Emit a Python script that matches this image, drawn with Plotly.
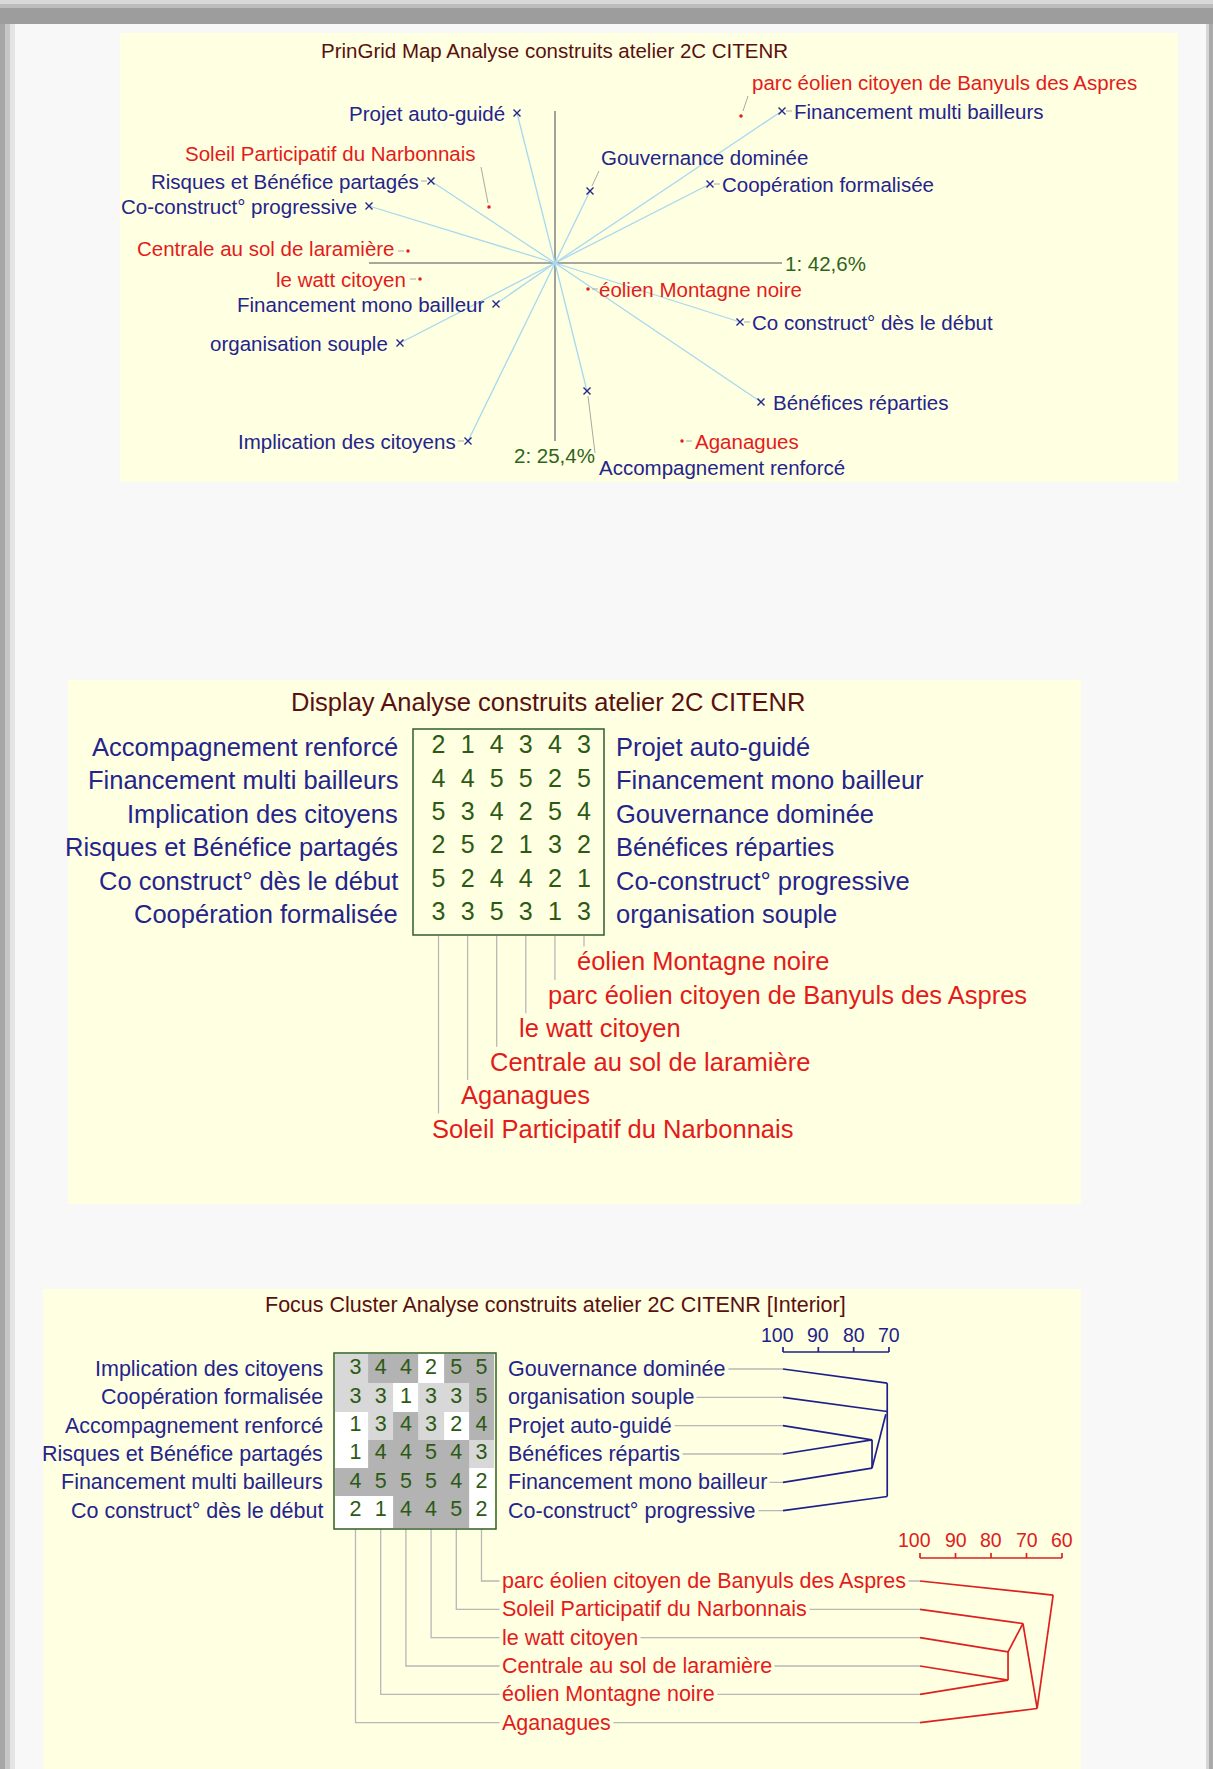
import plotly.graph_objects as go

W, H = 1213, 1769

# ---------------- PrinGrid map data (principal component scores) ----------------
map_constructs = [
    "Projet auto-guidé", "Risques et Bénéfice partagés", "Co-construct° progressive",
    "Gouvernance dominée", "Financement multi bailleurs", "Coopération formalisée",
    "Financement mono bailleur", "organisation souple", "Implication des citoyens",
    "Co construct° dès le début", "Bénéfices réparties", "Accompagnement renforcé",
]
construct_pc1 = [-0.38, -1.24, -1.86, 0.35, 2.27, 1.55, -0.59, -1.55, -0.87, 1.85, 2.06, 0.32]
construct_pc2 = [1.50, 0.82, 0.57, 0.72, 1.52, 0.79, -0.41, -0.80, -1.78, -0.59, -1.39, -1.28]

map_elements = [
    "parc éolien citoyen de Banyuls des Aspres", "Soleil Participatif du Narbonnais",
    "Centrale au sol de laramière", "le watt citoyen", "éolien Montagne noire", "Aganagues",
]
element_pc1 = [1.86, -0.66, -1.47, -1.35, 0.33, 1.27]
element_pc2 = [1.47, 0.56, 0.12, -0.16, -0.26, -1.78]
pc_labels = ["1: 42,6%", "2: 25,4%"]

# ---------------- Display grid data ----------------
display_left = ["Accompagnement renforcé", "Financement multi bailleurs", "Implication des citoyens",
                "Risques et Bénéfice partagés", "Co construct° dès le début", "Coopération formalisée"]
display_right = ["Projet auto-guidé", "Financement mono bailleur", "Gouvernance dominée",
                 "Bénéfices réparties", "Co-construct° progressive", "organisation souple"]
display_elements = ["Soleil Participatif du Narbonnais", "Aganagues", "Centrale au sol de laramière",
                    "le watt citoyen", "parc éolien citoyen de Banyuls des Aspres", "éolien Montagne noire"]
display_values = [[2, 1, 4, 3, 4, 3],
                  [4, 4, 5, 5, 2, 5],
                  [5, 3, 4, 2, 5, 4],
                  [2, 5, 2, 1, 3, 2],
                  [5, 2, 4, 4, 2, 1],
                  [3, 3, 5, 3, 1, 3]]

# ---------------- Focus cluster data ----------------
focus_left = ["Implication des citoyens", "Coopération formalisée", "Accompagnement renforcé",
              "Risques et Bénéfice partagés", "Financement multi bailleurs", "Co construct° dès le début"]
focus_right = ["Gouvernance dominée", "organisation souple", "Projet auto-guidé",
               "Bénéfices répartis", "Financement mono bailleur", "Co-construct° progressive"]
focus_elements = ["Aganagues", "éolien Montagne noire", "Centrale au sol de laramière",
                  "le watt citoyen", "Soleil Participatif du Narbonnais",
                  "parc éolien citoyen de Banyuls des Aspres"]
focus_values = [[3, 4, 4, 2, 5, 5],
                [3, 3, 1, 3, 3, 5],
                [1, 3, 4, 3, 2, 4],
                [1, 4, 4, 5, 4, 3],
                [4, 5, 5, 5, 4, 2],
                [2, 1, 4, 4, 5, 2]]
# element order down the element tree (column indices of focus_elements)
element_tree_order = [5, 4, 3, 2, 1, 0]
construct_tree_ticks = [100, 90, 80, 70]
element_tree_ticks = [100, 90, 80, 70, 60]
# tree links: (similarity %, row) -> (similarity %, row)
construct_tree_links = [
    (100, 0, 70.5, 0.5), (100, 1, 70.5, 1.5), (100, 2, 74.8, 2.5), (100, 3, 74.8, 2.5),
    (100, 4, 74.8, 3.5), (100, 5, 70.5, 4.5),
    (74.8, 2.5, 74.8, 3.5), (74.8, 3.5, 70.9, 1.6), (70.5, 0.5, 70.5, 4.5),
]
element_tree_links = [
    (100, 0, 62.5, 0.5), (100, 1, 71.0, 1.5), (100, 2, 75.2, 2.5), (100, 3, 75.2, 3.5),
    (100, 4, 75.2, 3.5), (100, 5, 67.0, 4.5),
    (75.2, 2.5, 75.2, 3.5), (75.2, 2.5, 71.0, 1.5), (71.0, 1.5, 67.0, 4.5), (62.5, 0.5, 67.0, 4.5),
]

# ---------------- styles ----------------
FONT = "Liberation Sans, Arial, sans-serif"
NAVY = "#24248c"
RED = "#e31b1b"
MAROON = "#5a1010"
GREEN_TXT = "#2f6420"
DIGIT = "#2c5a14"
BOXGREEN = "#2f5f2a"
YELLOW = "#ffffe1"
PAGE = "#f8f8f8"
SPOKE = "#a6d8f2"
AXISGRAY = "#8a8a8a"
LEADER = "#b8b8b8"
TREE_NAVY = "#1f1f8a"
TREE_RED = "#dd2020"

# label placements on the map (side, dx px, dy px, connector)
construct_label_pos = [
    ("L", -12, 0, None), ("L", -12, 0, "dash"), ("L", -12, 0, None),
    ("R", 11, -34, [(2, -5), (9, -20)]), ("R", 12, 0, "dash"), ("R", 12, 0, "dash"),
    ("L", -12, 0, None), ("L", -12, 0, None), ("L", -12, 0, "dash"),
    ("R", 12, 0, "dash"), ("R", 12, 0, None), ("R", 12, 76, [(1, 5), (8, 62)]),
]
element_label_pos = [
    ("R", 11, -34, [(2, -5), (7, -20)]), ("L", -13, -54, [(-1, -4), (-8, -40)]),
    ("L", -13, -3, "dash"), ("L", -14, 0, "dash"), ("R", 11, 0, "dash"), ("R", 13, 0, "dash"),
]

# axis pixel mappings: px = a + b*value
MAP_X, MAP_Y = (555.0, 100.0), (263.0, -100.0)
D_X, D_Y = (438.5, 29.1), (747.0, 33.4)
F_X, F_Y = (355.5, 25.2), (1369.0, 28.33)
CT_X = (783.0 + 100 * 3.533, -3.533)
ET_X = (920.0 + 100 * 3.55, -3.55)


def inv(m, px):
    return (px - m[0]) / m[1]


def xa(p0, p1, m, anchor):
    return dict(domain=[p0 / W, p1 / W], range=[inv(m, p0), inv(m, p1)], visible=False,
                fixedrange=True, anchor=anchor, showgrid=False, zeroline=False)


def ya(p0, p1, m, anchor):
    return dict(domain=[1 - p1 / H, 1 - p0 / H], range=[inv(m, p1), inv(m, p0)], visible=False,
                fixedrange=True, anchor=anchor, showgrid=False, zeroline=False)


def PX(x):
    return x / W


def PY(y):
    return 1 - y / H


fig = go.Figure()
annotations = []
shapes = []


def ann(text, x, y, xref="paper", yref="paper", size=20, color=NAVY, xanchor="center",
        yanchor="middle", xshift=0, yshift=0, bg=None, pad=1):
    d = dict(text=text, x=x, y=y, xref=xref, yref=yref, showarrow=False, xanchor=xanchor,
             yanchor=yanchor, xshift=xshift, yshift=yshift, borderpad=pad,
             font=dict(family=FONT, size=size, color=color))
    if bg:
        d["bgcolor"] = bg
    annotations.append(d)


def lines(xs, ys, xax, yax, color, width):
    fig.add_trace(go.Scatter(x=xs, y=ys, xaxis=xax, yaxis=yax, mode="lines",
                             line=dict(color=color, width=width), hoverinfo="skip",
                             showlegend=False))


def rect(x0, y0, x1, y1, fill, line=None, lw=0, layer="below"):
    shapes.append(dict(type="rect", xref="paper", yref="paper", x0=PX(x0), x1=PX(x1),
                       y0=PY(y1), y1=PY(y0), fillcolor=fill, layer=layer,
                       line=dict(color=line or "rgba(0,0,0,0)", width=lw)))


# ---------------- page frame & panels ----------------
rect(0, 0, W, 24, "#9d9d9d")
rect(0, 0, W, 4, "#d8d8d8")
rect(0, 4, W, 8, "#bcbcbc")
rect(0, 24, 5, H, "#a6a6a6")
rect(5, 24, 10, H, "#c6c6c6")
rect(10, 24, 15, H, "#e4e4e4")
rect(1206, 24, 1209, H, "#d6d6d6")
rect(1209, 24, W, H, "#aaaaaa")
rect(120, 33, 1178, 482, YELLOW)
rect(68, 680, 1081, 1204, YELLOW)
rect(43, 1289, 1081, H, YELLOW)

# ---------------- Panel 1 : PrinGrid map ----------------
ann("PrinGrid Map Analyse construits atelier 2C CITENR", PX(554), PY(50), size=20.5, color=MAROON)
xmin, xmax = min(construct_pc1), max(construct_pc1)
ymin, ymax = min(construct_pc2), max(construct_pc2)
lines([xmin, xmax, None, 0, 0], [0, 0, None, ymin, ymax], "x", "y", AXISGRAY, 1.6)
sx, sy = [], []
for x, y in zip(construct_pc1, construct_pc2):
    sx += [0, x, None]
    sy += [0, y, None]
lines(sx, sy, "x", "y", SPOKE, 1.3)

cx, cy = [], []


def place(names, xs, ys, pos, color):
    for name, x, y, (side, dx, dy, conn) in zip(names, xs, ys, pos):
        if side == "L":
            ann(name, x, y, "x", "y", 20.5, color, "right", "middle", dx + 2, -dy)
        else:
            ann(name, x, y, "x", "y", 20.5, color, "left", "middle", dx - 2, -dy)
        if conn == "dash":
            pts = [(-10, 0), (-4, 0)] if side == "L" else [(4, 0), (10, 0)]
        else:
            pts = conn
        if pts:
            (a, b), (c, d) = pts
            cx.extend([x + a / MAP_X[1], x + c / MAP_X[1], None])
            cy.extend([y - b / abs(MAP_Y[1]), y - d / abs(MAP_Y[1]), None])


place(map_constructs, construct_pc1, construct_pc2, construct_label_pos, NAVY)
place(map_elements, element_pc1, element_pc2, element_label_pos, RED)
lines(cx, cy, "x", "y", "#a9a9a9", 1.0)

fig.add_trace(go.Scatter(x=construct_pc1, y=construct_pc2, mode="markers", xaxis="x", yaxis="y",
                         marker=dict(symbol="x-thin", size=7, color=NAVY, line=dict(color=NAVY, width=1.4)),
                         hoverinfo="skip", showlegend=False))
fig.add_trace(go.Scatter(x=element_pc1, y=element_pc2, mode="markers", xaxis="x", yaxis="y",
                         marker=dict(symbol="circle", size=3.5, color=RED),
                         hoverinfo="skip", showlegend=False))
ann(pc_labels[0], xmax, 0, "x", "y", 20.5, GREEN_TXT, "left", "middle", 1, 0)
ann(pc_labels[1], 0, ymin, "x", "y", 20.5, GREEN_TXT, "center", "top", -1, -1)

# ---------------- Panel 2 : Display ----------------
ann("Display Analyse construits atelier 2C CITENR", PX(548), PY(702), size=25.5, color=MAROON)
tx, ty, tt = [], [], []
for j, row in enumerate(display_values):
    for i, v in enumerate(row):
        tx.append(i)
        ty.append(j)
        tt.append(str(v))
fig.add_trace(go.Scatter(x=tx, y=ty, text=tt, mode="text", xaxis="x2", yaxis="y2",
                         textfont=dict(family=FONT, size=25, color=DIGIT),
                         hoverinfo="skip", showlegend=False))
for j, (l, r) in enumerate(zip(display_left, display_right)):
    ann(l, PX(400), j, "paper", "y2", 25.5, NAVY, "right")
    ann(r, PX(614), j, "paper", "y2", 25.5, NAVY, "left")
rect(413, 729, 604, 935, "rgba(0,0,0,0)", BOXGREEN, 1.5, "above")
box2_bottom = inv(D_Y, 936)
elem_row0 = inv(D_Y, 961.5)
vx, vy = [], []
n = len(display_elements)
for c, name in enumerate(display_elements):
    lr = elem_row0 + (n - 1 - c)
    vx += [c, c, None]
    vy += [box2_bottom, lr - 15 / D_Y[1], None]
    ann(name, c, lr, "x2", "y2", 25.5, RED, "left", "middle", -9, 0)
lines(vx, vy, "x2", "y2", LEADER, 1.3)

# ---------------- Panel 3 : Focus cluster ----------------
ann("Focus Cluster Analyse construits atelier 2C CITENR [Interior]", PX(555), PY(1305), size=21.5, color=MAROON)
fig.add_trace(go.Heatmap(z=focus_values, x=[-0.81, 0.5, 1.5, 2.5, 3.5, 4.5, 5.5],
                         y=[-0.53, 0.5, 1.5, 2.5, 3.5, 4.5, 5.6], xaxis="x3", yaxis="y3",
                         zmin=1, zmax=5, showscale=False, hoverinfo="skip",
                         colorscale=[[0, "#ffffff"], [0.375, "#ffffff"], [0.375, "#d8d8d8"],
                                     [0.625, "#d8d8d8"], [0.625, "#b3b3b3"], [1, "#b3b3b3"]]))
tx, ty, tt = [], [], []
for j, row in enumerate(focus_values):
    for i, v in enumerate(row):
        tx.append(i)
        ty.append(j)
        tt.append(str(v))
fig.add_trace(go.Scatter(x=tx, y=ty, text=tt, mode="text", xaxis="x3", yaxis="y3",
                         textfont=dict(family=FONT, size=21.5, color=DIGIT),
                         hoverinfo="skip", showlegend=False))
rect(334, 1353, 496, 1529, "rgba(0,0,0,0)", BOXGREEN, 1.5, "above")

# construct leaders + labels
lx, ly = [], []
leaf_start = inv(CT_X, 506)
for j, (l, r) in enumerate(zip(focus_left, focus_right)):
    ann(l, PX(325), j, "paper", "y3", 21.5, NAVY, "right")
    ann(r, PX(505), j, "paper", "y3", 21.5, NAVY, "left", bg=YELLOW, pad=2)
    lx += [leaf_start, 100, None]
    ly += [j, j, None]
lines(lx, ly, "x4", "y3", LEADER, 1.3)

# construct tree
tx_, ty_ = [], []
for s0, r0, s1, r1 in construct_tree_links:
    tx_ += [s0, s1, None]
    ty_ += [r0, r1, None]
lines(tx_, ty_, "x4", "y3", TREE_NAVY, 1.7)
rb, rt, rl = inv(F_Y, 1352), inv(F_Y, 1347), inv(F_Y, 1335)
bx = [construct_tree_ticks[0], construct_tree_ticks[-1], None]
by = [rb, rb, None]
for v in construct_tree_ticks:
    bx += [v, v, None]
    by += [rb, rt, None]
    ann(str(v), v, rl, "x4", "y3", 19.5, TREE_NAVY, "right", "middle", 13, 0)
lines(bx, by, "x4", "y3", TREE_NAVY, 1.7)

# element leaders + labels
e_row0 = inv(F_Y, 1581)
box3_bottom = inv(F_Y, 1529)
leaf_x3 = inv(F_X, 920)
ex, ey = [], []
for k, c in enumerate(element_tree_order):
    er = e_row0 + k
    ex += [c, c, leaf_x3, None]
    ey += [box3_bottom, er, er, None]
    ann(focus_elements[c], PX(499), er, "paper", "y3", 21.5, RED, "left", bg=YELLOW, pad=2)
lines(ex, ey, "x3", "y3", LEADER, 1.3)

tx_, ty_ = [], []
for s0, r0, s1, r1 in element_tree_links:
    tx_ += [s0, s1, None]
    ty_ += [e_row0 + r0, e_row0 + r1, None]
lines(tx_, ty_, "x5", "y3", TREE_RED, 1.7)
rb, rt, rl = inv(F_Y, 1558), inv(F_Y, 1553), inv(F_Y, 1540)
bx = [element_tree_ticks[0], element_tree_ticks[-1], None]
by = [rb, rb, None]
for v in element_tree_ticks:
    bx += [v, v, None]
    by += [rb, rt, None]
    ann(str(v), v, rl, "x5", "y3", 19.5, TREE_RED, "right", "middle", 13, 0)
lines(bx, by, "x5", "y3", TREE_RED, 1.7)

fig.update_layout(
    width=W, height=H, autosize=False, margin=dict(l=0, r=0, t=0, b=0, pad=0),
    paper_bgcolor=PAGE, plot_bgcolor="rgba(0,0,0,0)", hovermode=False, showlegend=False,
    xaxis=xa(120, 1178, MAP_X, "y"), yaxis=ya(33, 482, MAP_Y, "x"),
    xaxis2=xa(68, 1081, D_X, "y2"), yaxis2=ya(680, 1204, D_Y, "x2"),
    xaxis3=xa(43, 1081, F_X, "y3"), yaxis3=ya(1289, 1769, F_Y, "x3"),
    xaxis4=xa(43, 1081, CT_X, "y3"), xaxis5=xa(43, 1081, ET_X, "y3"),
    annotations=annotations, shapes=shapes,
)
fig.write_html(
    "out.html",
    config={"displayModeBar": False, "staticPlot": True},
    post_script="document.body.style.margin='0px';document.body.style.padding='0px';"
                "document.body.style.overflow='hidden';",
)
